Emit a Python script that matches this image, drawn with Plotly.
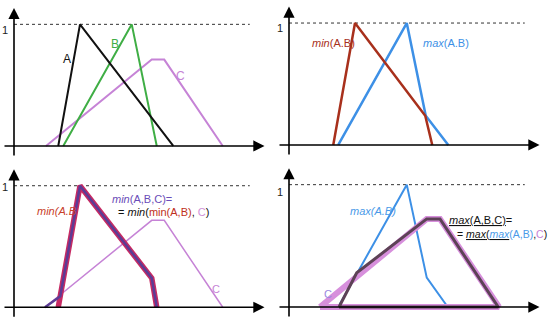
import plotly.graph_objects as go
from plotly.subplots import make_subplots

# ---------------- data (x in abstract units, y = membership degree) ----------------
# Panel 1: fuzzy sets A, B, C
a_x = [1.77, 2.64, 6.37]
a_y = [0, 1, 0]
b_x = [1.97, 4.71, 5.71]
b_y = [0, 1, 0]
c_x = [1.28, 5.51, 6.01, 8.35]
c_y = [0, 0.71, 0.71, 0]

# Panel 2: min(A.B) and max(A.B)
minab_x = [1.77, 2.64, 5.45, 5.73]
minab_y = [0, 1, 0.24, 0]
maxab_x = [1.97, 4.71, 5.47, 6.37]
maxab_y = [0, 1, 0.24, 0]

# Panel 3: min(A,B,C)
p3_minab_x = [1.77, 2.64, 5.51, 5.71]
p3_minab_y = [0, 1, 0.24, 0]
p3_minabc_x = [1.24, 1.85, 2.64, 5.51, 5.71]
p3_minabc_y = [0, 0.09, 1, 0.24, 0]
p3_c_x = [1.24, 5.51, 6.01, 8.35]
p3_c_y = [0, 0.715, 0.715, 0]

# Panel 4: max(A,B,C)
p4_maxab_x = [1.97, 4.71, 5.51, 6.35]
p4_maxab_y = [0, 1, 0.24, 0]
p4_c_x = [1.24, 5.51, 6.04, 8.40, 1.24]
p4_c_y = [0, 0.72, 0.72, 0, 0]
p4_maxabc_x = [2.0, 2.71, 5.51, 6.04, 8.37, 2.0]
p4_maxabc_y = [0, 0.28, 0.72, 0.72, 0, 0]

one_level = [1, 1]
dash_x = [0, 9.43]

FONT = "Arial, Liberation Sans, sans-serif"
BLACK = "#111111"
GREEN = "#3fae45"
VIOLET = "#c683d6"
RED = "#a8301c"
BLUE = "#3d90e6"
MAGENTA = "#c62a63"
PURPLE = "#5c3c95"
PINK = "#d78fdc"
DARK = "#5d4256"

fig = make_subplots(rows=2, cols=2, horizontal_spacing=0, vertical_spacing=0)

def line(x, y, color, width, row, col, dash=None):
    fig.add_trace(go.Scatter(x=x, y=y, mode="lines",
                             line=dict(color=color, width=width, dash=dash),
                             hoverinfo="skip", showlegend=False), row=row, col=col)

# dashed "1" levels
for r in (1, 2):
    for c in (1, 2):
        line(dash_x, one_level, "#333333", 1, r, c, dash="3px,3px")

# panel 1
line(c_x, c_y, VIOLET, 2, 1, 1)
line(b_x, b_y, GREEN, 2, 1, 1)
line(a_x, a_y, BLACK, 2, 1, 1)
# panel 2
line(maxab_x, maxab_y, BLUE, 2.5, 1, 2)
line(minab_x, minab_y, RED, 2.5, 1, 2)
# panel 3
line(p3_c_x, p3_c_y, VIOLET, 1.5, 2, 1)
line(p3_minab_x, p3_minab_y, MAGENTA, 5.5, 2, 1)
line(p3_minabc_x, p3_minabc_y, PURPLE, 2.5, 2, 1)
# panel 4
line(p4_maxab_x, p4_maxab_y, BLUE, 2, 2, 2)
line(p4_c_x, p4_c_y, PINK, 6, 2, 2)
line(p4_maxabc_x, p4_maxabc_y, DARK, 3, 2, 2)

# axes configuration
yranges = {1: [-0.140, 1.200], 2: [-0.148, 1.189], 3: [-0.154, 1.187], 4: [-0.155, 1.177]}
one_y = {1: 0.95, 2: 0.957, 3: 0.99, 4: 0.94}
for i in range(1, 5):
    xs = "" if i == 1 else str(i)
    fig.layout["xaxis" + xs].update(range=[-0.56, 10.44], visible=False, fixedrange=True)
    fig.layout["yaxis" + xs].update(range=yranges[i], visible=False, fixedrange=True)

annotations = []
def ann(i, x, y, text, color=BLACK, size=11, xanchor="left"):
    xs = "" if i == 1 else str(i)
    annotations.append(dict(xref="x" + xs, yref="y" + xs, x=x, y=y, text=text,
                            showarrow=False, xanchor=xanchor, yanchor="middle",
                            font=dict(family=FONT, size=size, color=color)))

def arrow(i, x0, y0, x1, y1):
    xs = "" if i == 1 else str(i)
    annotations.append(dict(xref="x" + xs, yref="y" + xs, axref="x" + xs, ayref="y" + xs,
                            x=x1, y=y1, ax=x0, ay=y0, text="", showarrow=True,
                            arrowhead=2, arrowsize=1.4, arrowwidth=1.6, arrowcolor="#000000"))

for i in range(1, 5):
    arrow(i, 0, -0.09, 0, 1.135)
    arrow(i, -0.44, 0, 10.02, 0)
    ann(i, -0.38, one_y[i], "1", "#222222", 11, "center")

# panel 1 labels
ann(1, 2.11, 0.715, "A", BLACK, 12, "center")
ann(1, 4.04, 0.84, "B", GREEN, 12, "center")
ann(1, 6.64, 0.575, "C", VIOLET, 12, "center")
# panel 2 labels
ann(2, 0.84, 0.836, "<i>min</i>(A.B)", RED, 11)
ann(2, 5.28, 0.834, "<i>max</i>(A.B)", BLUE, 11)
# panel 3 labels
ann(3, 0.84, 0.794, "<i>min(A.B</i>", "#c8402a", 11)
ann(3, 3.84, 0.893, "<i>min</i>(A,B,C)=", "#6a4cb8", 11)
ann(3, 4.08, 0.781,
    "= <i>min</i>(<span style='color:#c03020'>min(A,B)</span>, "
    "<span style='color:#d090d8'>C</span>)", BLACK, 11)
ann(3, 8.08, 0.153, "C", VIOLET, 11, "center")
# panel 4 labels
ann(4, 2.37, 0.787, "<i>max(A.B)</i>", "#4a9ae8", 11)
ann(4, 6.33, 0.709,
    "<span style='text-decoration:underline'><i>max</i>(A,B,C)</span>=", BLACK, 11)
ann(4, 6.64, 0.60,
    "= <span style='text-decoration:underline'><i>max</i>(<span style='color:#4a9ae8'><i>max</i></span></span>"
    "<span style='color:#4a9ae8'>(A,B)</span>,<span style='color:#c683d6'>C</span>)", BLACK, 10.5)
ann(4, 1.55, 0.11, "C", "#9a88e0", 11, "center")

fig.update_layout(width=550, height=326, margin=dict(l=0, r=0, t=0, b=0),
                  paper_bgcolor="white", plot_bgcolor="white",
                  annotations=annotations, showlegend=False)

fig.write_html("out.html", config={"displayModeBar": False},
               post_script="document.body.style.margin='0';")
